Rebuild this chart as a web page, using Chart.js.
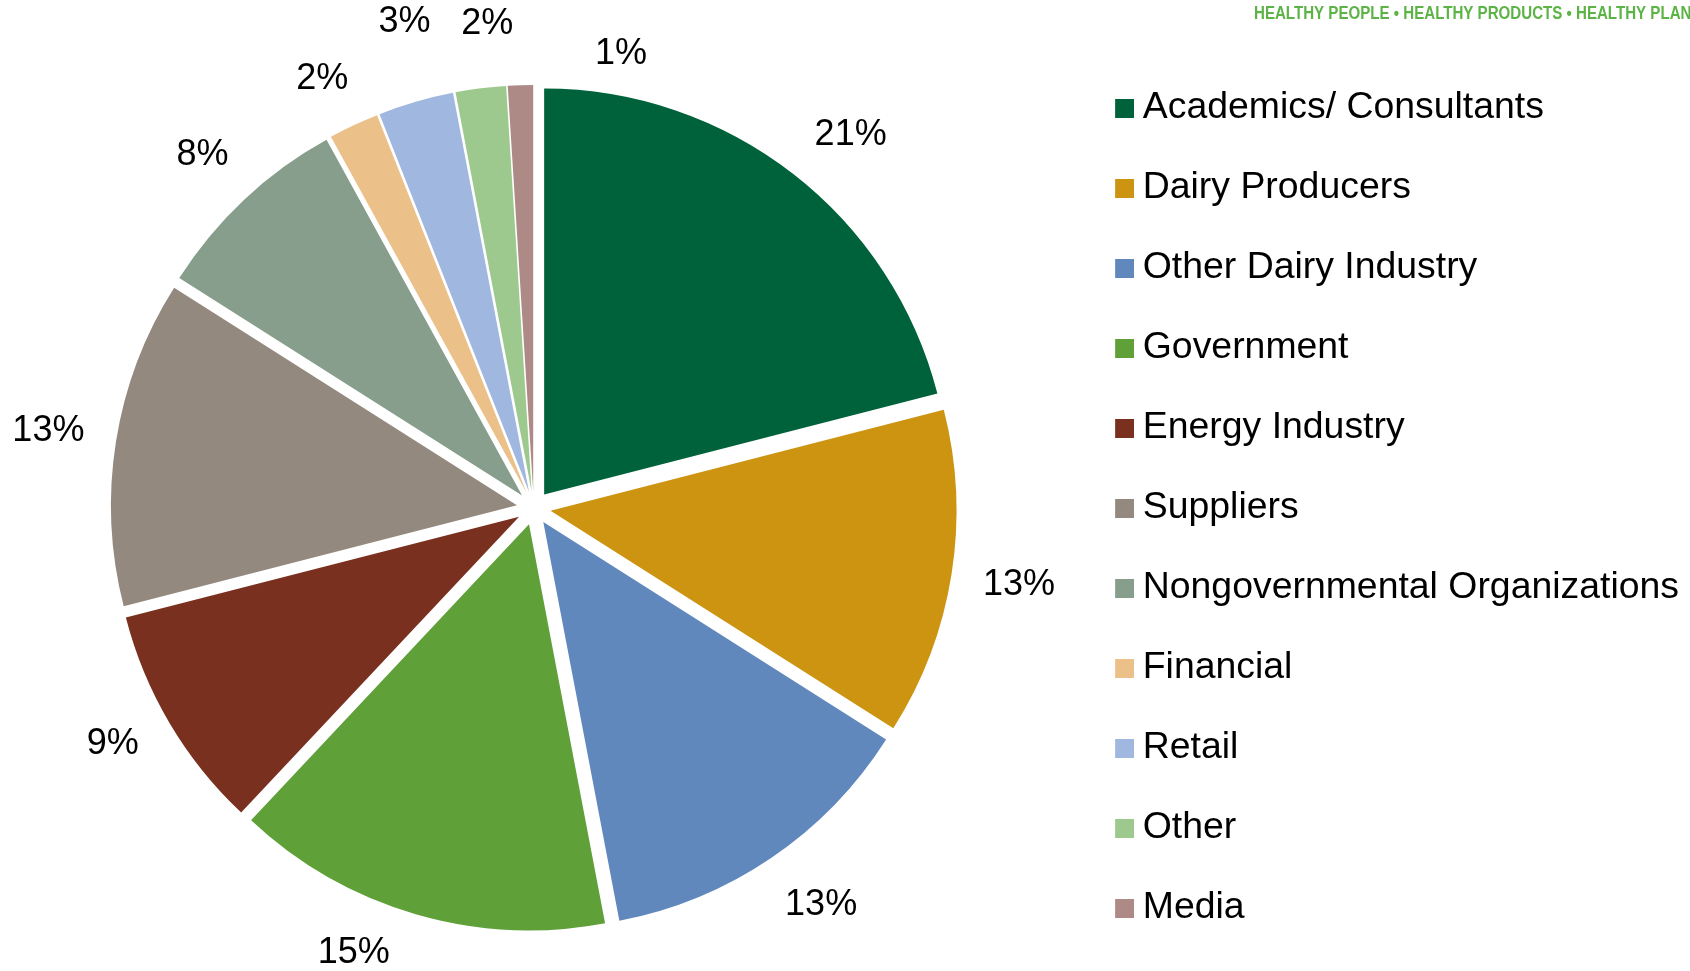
<!DOCTYPE html>
<html>
<head>
<meta charset="utf-8">
<script src="https://cdn.jsdelivr.net/npm/chart.js@4.4.1/dist/chart.umd.min.js"></script>
<style>
  html, body { margin: 0; padding: 0; background: #fff; }
  #wrap { width: 1690px; height: 971px; position: relative; }
</style>
</head>
<body>
<div id="wrap"><canvas id="stakeChart"></canvas></div>
<script>
// 이해관계자 구성 (%)
const categories = ['Academics/ Consultants', 'Dairy Producers', 'Other Dairy Industry', 'Government',
  'Energy Industry', 'Suppliers', 'Nongovernmental Organizations', 'Financial', 'Retail', 'Other', 'Media'];
const shares = [21, 13, 13, 15, 9, 13, 8, 2, 3, 2, 1];
const sliceColors = ['#00623a', '#cc9411', '#6088bd', '#5fa038', '#7a301f', '#94897e',
  '#869e8b', '#ecc089', '#a0b7df', '#9dc98e', '#ad8a85'];
const bannerParts = ['HEALTHY PEOPLE \u2022 HEALTHY PRODUCTS \u2022 ', 'HEALTHY PLANET'];

const total = shares.reduce((a, b) => a + b, 0);

// 범례 상자: 글자 쪽으로 붙여 그리기 위해 오른쪽에 정사각형이 있는 작은 캔버스 사용
const BOX = 19, SHIFT = 10;
function legendSwatch(color) {
  const c = document.createElement('canvas');
  c.width = BOX + 2 * SHIFT;
  c.height = BOX;
  const g = c.getContext('2d');
  g.fillStyle = color;
  g.fillRect(2 * SHIFT, 0, BOX, BOX);
  return c;
}

// 조각 분리 (exploded pie) : 모든 조각을 이등분선 방향으로 같은 거리만큼 이동
const explodePlugin = {
  id: 'explode',
  afterDatasetUpdate(chart, args, opts) {
    const d = opts.distance || 0;
    args.meta.data.forEach(arc => {
      const mid = (arc.startAngle + arc.endAngle) / 2;
      arc.x += Math.cos(mid) * d;
      arc.y += Math.sin(mid) * d;
    });
  }
};

// 퍼센트 라벨 (라벨 상자가 원 바깥에 일정 간격으로 놓이도록)
const pctLabelPlugin = {
  id: 'pctLabels',
  afterDatasetsDraw(chart, args, opts) {
    const {ctx, chartArea} = chart;
    const meta = chart.getDatasetMeta(0);
    const cx = (chartArea.left + chartArea.right) / 2;
    const cy = (chartArea.top + chartArea.bottom) / 2;
    ctx.save();
    ctx.font = opts.size + 'px ' + opts.family;
    ctx.fillStyle = opts.color;
    ctx.textAlign = 'center';
    ctx.textBaseline = 'middle';
    meta.data.forEach((arc, i) => {
      const mid = (arc.startAngle + arc.endAngle) / 2;
      const ux = Math.cos(mid), uy = Math.sin(mid);
      const text = Math.round(shares[i] / total * 100) + '%';
      const w = ctx.measureText(text).width;
      const r = arc.outerRadius + opts.gap + Math.abs(ux) * w / 2 + Math.abs(uy) * opts.size / 2;
      const nudge = opts.nudge[chart.data.labels[i]] || [0, 0];
      ctx.fillText(text, cx + ux * r + nudge[0], cy + uy * r + nudge[1]);
    });
    ctx.restore();
  }
};

// 오른쪽 위 문구 (좁은 글꼴 흉내: 가로로 압축)
const bannerPlugin = {
  id: 'banner',
  afterDraw(chart, args, opts) {
    const ctx = chart.ctx;
    ctx.save();
    ctx.font = 'bold 18px "Liberation Sans", Arial, sans-serif';
    ctx.fillStyle = '#5cb446';
    ctx.textBaseline = 'middle';
    const sx = opts.prefixWidth / ctx.measureText(bannerParts[0]).width;
    ctx.translate(opts.x, opts.y);
    ctx.scale(sx, 1);
    ctx.fillText(bannerParts.join(''), 0, 0);
    ctx.restore();
  }
};

const ChartA = document.getElementById('stakeChart');
const stakeChart = new Chart(ChartA, {
  type: 'pie',
  data: {
    labels: categories,
    datasets: [{
      data: shares,
      backgroundColor: sliceColors,
      borderWidth: 0
    }]
  },
  options: {
    responsive: true,
    maintainAspectRatio: false,
    animation: false,
    radius: 406,
    layout: {
      padding: { top: 45, bottom: 0, left: 5, right: 1 }
    },
    plugins: {
      legend: {
        display: true,
        position: 'right',
        align: 'center',
        labels: {
          boxWidth: BOX,
          boxHeight: BOX,
          usePointStyle: true,
          padding: 42.6,
          color: '#000',
          font: { family: '"Liberation Sans", Arial, sans-serif', size: 37.4 },
          generateLabels(chart) {
            const items = Chart.overrides.pie.plugins.legend.labels.generateLabels(chart);
            items.forEach((item, i) => { item.pointStyle = legendSwatch(sliceColors[i]); });
            return items;
          }
        }
      },
      tooltip: { enabled: false },
      explode: { distance: 17 },
      pctLabels: {
        gap: 47,
        size: 36,
        family: '"Liberation Sans", Arial, sans-serif',
        color: '#000',
        nudge: {
          'Academics/ Consultants': [17, 14],
          'Other Dairy Industry': [13, -7],
          'Government': [-46, -16],
          'Energy Industry': [-4, -11],
          'Financial': [-7, 6],
          'Retail': [4, -27],
          'Other': [13, -14],
          'Media': [102, 18]
        }
      },
      banner: { x: 1254, y: 14, prefixWidth: 322 }
    }
  },
  plugins: [explodePlugin, pctLabelPlugin, bannerPlugin]
});
</script>
</body>
</html>
